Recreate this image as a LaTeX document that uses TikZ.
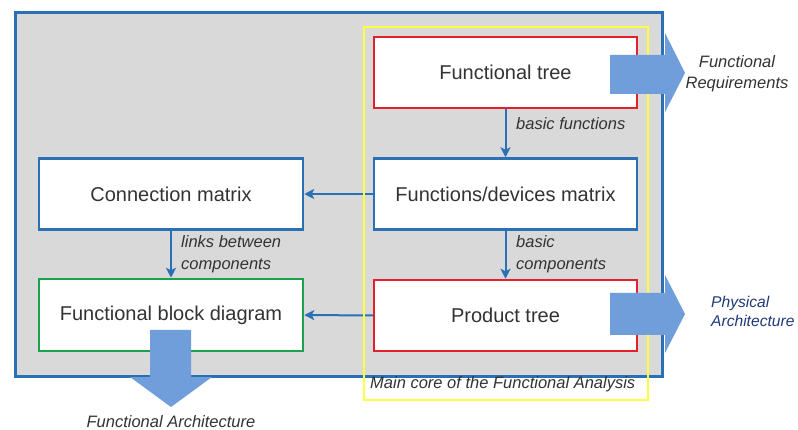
\documentclass[tikz,border=0pt]{standalone}
\usepackage{fontspec}
\setmainfont{Liberation Sans}
\usetikzlibrary{arrows.meta}

\definecolor{frameblue}{HTML}{2A70B5}
\definecolor{boxred}{HTML}{E3202B}
\definecolor{boxgreen}{HTML}{1FA04A}
\definecolor{coreyellow}{HTML}{FFFF40}
\definecolor{panelgray}{HTML}{D9D9D9}
\definecolor{bigarrow}{HTML}{6F9EDB}
\definecolor{txt}{HTML}{333333}
\definecolor{navytxt}{HTML}{1F3A78}

\tikzset{
  block/.style={draw, fill=white, line width=2.5pt, minimum width=263pt,
    minimum height=71pt, inner sep=0pt, text=txt,
    font=\fontsize{20}{24}\selectfont},
  link/.style={draw=frameblue, line width=2pt,
    -{Stealth[length=10pt,width=10pt,inset=2.5pt]}},
  note/.style={font=\itshape\fontsize{16.5}{22}\selectfont, text=txt,
    inner sep=0pt, align=left},
  fatarrow/.style={fill=bigarrow, draw=none}
}

\begin{document}
\begin{tikzpicture}[x=1pt,y=-1pt]
  % page
  \fill[white] (0,0) rectangle (798,430);
  \useasboundingbox (0,0) rectangle (798,430);

  % grey panel with blue frame
  \draw[frameblue, line width=3pt, fill=panelgray] (15,13) rectangle (662,376);

  % blocks
  \node[block, draw=boxred]    (ftree) at (505.5,72.5) {Functional tree};
  \node[block, draw=frameblue] (fdm)   at (505.5,194)  {Functions/devices matrix};
  \node[block, draw=boxred]    (ptree) at (505.5,315.5){Product tree};
  \node[block, draw=frameblue, minimum width=264pt] (cmat) at (171,194) {Connection matrix};
  \node[block, draw=boxgreen, minimum width=264pt, minimum height=72pt] (fbd) at (171,315) {Functional block diagram};

  % connectors
  \draw[link] (ftree.south) -- (fdm.north);
  \draw[link] (fdm.south) -- (ptree.north);
  \draw[link] (fdm.west) -- (cmat.east);
  \draw[link] (ptree.west) -- (fbd.east);
  \draw[link] (cmat.south) -- (fbd.north);

  % yellow frame around the core, crossing the connectors
  \draw[coreyellow, line width=2.5pt] (364,27) rectangle (648,400);

  % connector labels
  \node[note, anchor=west] (lbf) at (516,124) {basic functions};
  \node[note, anchor=west] (lbc) at (516,254) {basic\\components};
  \node[note, anchor=west] (llc) at (181,254.5) {links between\\components};
  \node[note, anchor=west] (lcore) at (370,384) {Main core of the Functional Analysis};

  % outputs
  \fill[fatarrow] (610,55) -- (665,55) -- (665,33) -- (685,73) -- (665,112) -- (665,94) -- (610,94) -- cycle;
  \fill[fatarrow] (610,293) -- (665,293) -- (665,275) -- (685,314) -- (665,353) -- (665,335) -- (610,335) -- cycle;
  \fill[fatarrow] (150,330) -- (191,330) -- (191,377) -- (212,377) -- (171,407) -- (130,377) -- (150,377) -- cycle;

  \node[note, align=center, font=\itshape\fontsize{16.5}{21}\selectfont] (lreq) at (737,73.5) {Functional\\Requirements};
  \node[note, anchor=west, text=navytxt, font=\itshape\fontsize{15.6}{19}\selectfont] (lphys) at (711,311.5) {Physical\\Architecture};
  \node[note, align=center] (larch) at (171,422) {Functional Architecture};
\end{tikzpicture}
\end{document}
